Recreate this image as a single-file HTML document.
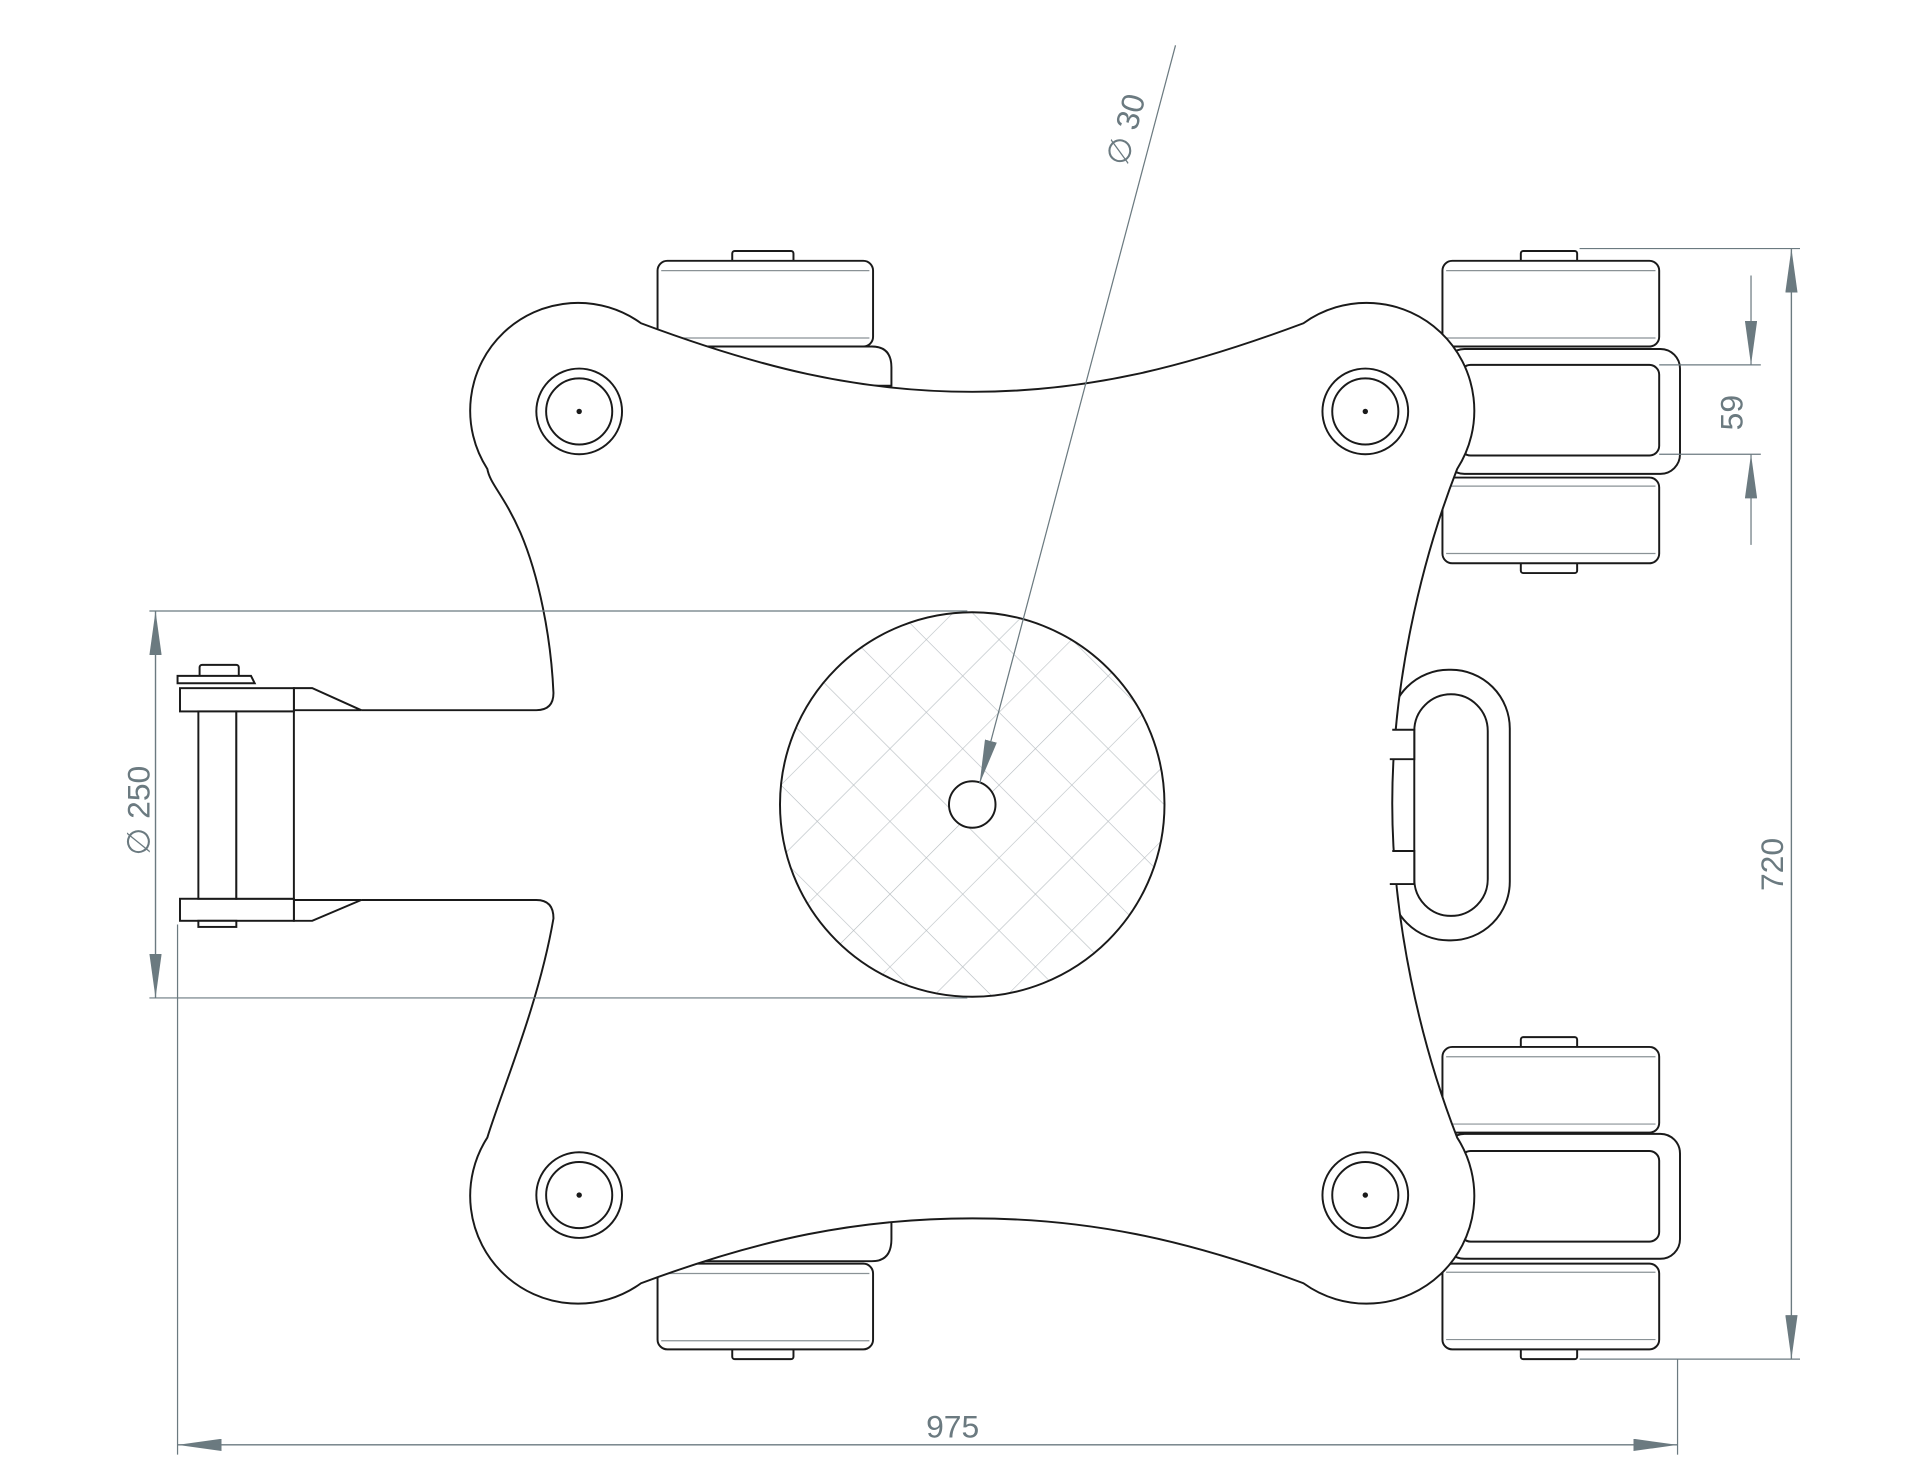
<!DOCTYPE html>
<html><head><meta charset="utf-8"><style>html,body{margin:0;padding:0;background:#fff}svg{display:block}</style></head>
<body>
<svg width="1920" height="1481" viewBox="0 0 1568 1209.5" preserveAspectRatio="none" xmlns="http://www.w3.org/2000/svg">
<defs>
<pattern id="h" patternUnits="userSpaceOnUse" width="42" height="42" patternTransform="rotate(45 794 657)">
<line x1="0" y1="0" x2="0" y2="42" stroke="#b8bec2" stroke-width="1"/>
<line x1="0" y1="0" x2="42" y2="0" stroke="#b8bec2" stroke-width="1"/>
</pattern>
<marker id="a" markerWidth="36" markerHeight="10" refX="36" refY="5" orient="auto" markerUnits="userSpaceOnUse"><path d="M0,0 L36,5 L0,10 Z" fill="#6b7a80"/></marker>
</defs>
<g fill="#fff" stroke="#1a1a1a" stroke-width="1.6">
<path d="M575,283 H712 Q728,283 728,300 V315 H575 Z"/>
<rect x="598" y="205" width="50" height="9" rx="2"/>
<rect x="537" y="213" width="176" height="70" rx="8"/>
<path d="M575,998 H728 V1012 Q728,1030 712,1030 H575 Z"/>
<rect x="598" y="1101" width="50" height="9" rx="2"/>
<rect x="537" y="1032" width="176" height="70" rx="8"/>
<rect x="1242" y="205" width="46" height="9" rx="2"/>
<rect x="1242" y="459" width="46" height="9" rx="2"/>
<rect x="1180" y="285" width="192" height="102" rx="16"/>
<rect x="1178" y="213" width="177" height="70" rx="8"/>
<rect x="1193" y="298" width="162" height="74" rx="8"/>
<rect x="1178" y="390" width="177" height="70" rx="8"/>
<rect x="1242" y="847" width="46" height="9" rx="2"/>
<rect x="1242" y="1101" width="46" height="9" rx="2"/>
<rect x="1180" y="926" width="192" height="102" rx="16"/>
<rect x="1178" y="855" width="177" height="70" rx="8"/>
<rect x="1193" y="940" width="162" height="74" rx="8"/>
<rect x="1178" y="1032" width="177" height="70" rx="8"/>
</g>
<g stroke="#8a9296" stroke-width="1" fill="none">
<line x1="540" y1="221" x2="710" y2="221"/><line x1="540" y1="276" x2="710" y2="276"/>
<line x1="540" y1="1040" x2="710" y2="1040"/><line x1="540" y1="1095" x2="710" y2="1095"/>
<line x1="1181" y1="221" x2="1352" y2="221"/><line x1="1181" y1="276" x2="1352" y2="276"/>
<line x1="1181" y1="397" x2="1352" y2="397"/><line x1="1181" y1="452" x2="1352" y2="452"/>
<line x1="1181" y1="863" x2="1352" y2="863"/><line x1="1181" y1="918" x2="1352" y2="918"/>
<line x1="1181" y1="1039" x2="1352" y2="1039"/><line x1="1181" y1="1094" x2="1352" y2="1094"/>
</g>
<g fill="#fff" stroke="#1a1a1a" stroke-width="1.6">
<rect x="1135" y="547" width="98" height="221" rx="48"/>
<rect x="1155" y="567" width="60" height="181" rx="30"/>
</g>
<path d="M295,580 H438 Q452,580 452,566 C450,520 440,470 425,435 C412,405 400,395 398,383 A88,88 0 0 1 523.5,264 C620,300 700,320 794,320 C888,320 968,300 1064.5,264 A88,88 0 0 1 1190,383 C1160,460 1137,560 1137,656 C1137,752 1160,852 1190,929 A88,88 0 0 1 1064.5,1048 C968,1012 888,995 794,995 C700,995 620,1012 523.5,1048 A88,88 0 0 1 398,929 C410,890 440,820 452,750 Q452,735 438,735 H295" fill="#fff" stroke="#1a1a1a" stroke-width="1.6"/>
<g fill="#fff" stroke="#1a1a1a" stroke-width="1.6">
<path d="M1137,596 H1155 V620 H1135"/>
<path d="M1137,695 H1155 V722 H1135"/>
</g>
<g fill="none" stroke="#1a1a1a" stroke-width="1.6">
<circle cx="473" cy="336" r="35"/><circle cx="473" cy="336" r="27"/>
<circle cx="1115" cy="336" r="35"/><circle cx="1115" cy="336" r="27"/>
<circle cx="473" cy="976" r="35"/><circle cx="473" cy="976" r="27"/>
<circle cx="1115" cy="976" r="35"/><circle cx="1115" cy="976" r="27"/>
</g>
<g fill="#1a1a1a"><circle cx="473" cy="336" r="2.2"/><circle cx="1115" cy="336" r="2.2"/><circle cx="473" cy="976" r="2.2"/><circle cx="1115" cy="976" r="2.2"/></g>
<circle cx="794" cy="657" r="157" fill="url(#h)" stroke="#1a1a1a" stroke-width="1.6"/>
<circle cx="794" cy="657" r="19" fill="#fff" stroke="#1a1a1a" stroke-width="1.6"/>
<g fill="#fff" stroke="#1a1a1a" stroke-width="1.6">
<path d="M240,562 L255,562 L295,580 L240,580 Z"/>
<path d="M240,735 L295,735 L255,752 L240,752 Z"/>
<rect x="147" y="562" width="93" height="19"/>
<rect x="147" y="734" width="93" height="18"/>
<rect x="162" y="581" width="31" height="153"/>
<rect x="193" y="581" width="47" height="153"/>
<rect x="162" y="752" width="31" height="5"/>
<rect x="163" y="543" width="32" height="12" rx="2"/>
<path d="M145,552 H205 L208,558 H145 Z"/>
</g>
<g stroke="#6b7a80" stroke-width="1" fill="none">
<line x1="1290" y1="203" x2="1470" y2="203"/>
<line x1="1290" y1="1110" x2="1470" y2="1110"/>
<line x1="1463" y1="1110" x2="1463" y2="203" marker-end="url(#a)"/>
<line x1="1463" y1="203" x2="1463" y2="1110" marker-end="url(#a)"/>
<line x1="1355" y1="298" x2="1438" y2="298"/>
<line x1="1355" y1="371" x2="1438" y2="371"/>
<line x1="1430" y1="225" x2="1430" y2="298" marker-end="url(#a)"/>
<line x1="1430" y1="445" x2="1430" y2="371" marker-end="url(#a)"/>
<line x1="122" y1="499" x2="790" y2="499"/>
<line x1="122" y1="815" x2="790" y2="815"/>
<line x1="127" y1="815" x2="127" y2="499" marker-end="url(#a)"/>
<line x1="127" y1="499" x2="127" y2="815" marker-end="url(#a)"/>
<line x1="145" y1="755" x2="145" y2="1188"/>
<line x1="1370" y1="1110" x2="1370" y2="1188"/>
<line x1="1370" y1="1180" x2="145" y2="1180" marker-end="url(#a)"/>
<line x1="145" y1="1180" x2="1370" y2="1180" marker-end="url(#a)"/>
<line x1="960" y1="37" x2="800" y2="640" marker-end="url(#a)"/>
</g>
<g fill="#6b7a80" font-family="Liberation Sans, DejaVu Sans, sans-serif" font-size="26">
<text x="778" y="1174" text-anchor="middle">975</text>
<text transform="translate(1456,706) rotate(-90)" text-anchor="middle">720</text>
<text transform="translate(1423,337) rotate(-90)" text-anchor="middle">59</text>
<text transform="translate(122,662) rotate(-90)" text-anchor="middle">∅ 250</text>
<text transform="translate(928,108) rotate(-75)" text-anchor="middle">∅ 30</text>
</g>
</svg>
</body></html>
